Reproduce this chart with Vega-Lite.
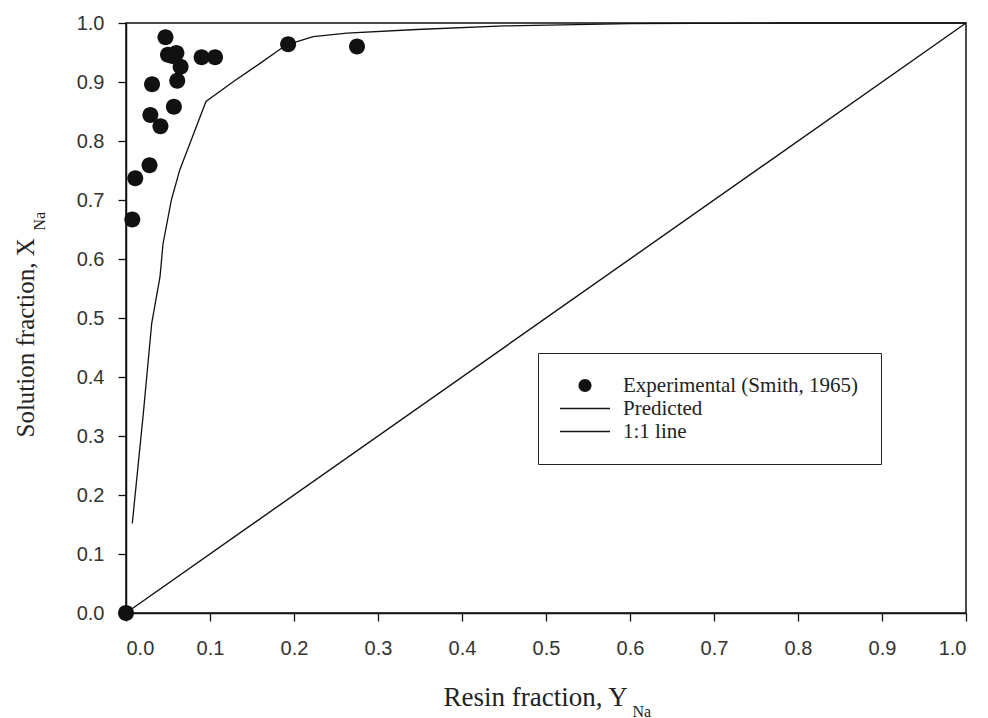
{
  "$schema": "https://vega.github.io/schema/vega-lite/v6.json",
  "width": 840,
  "height": 590,
  "autosize": {"type": "none"},
  "padding": {"left": 126, "top": 23, "right": 22, "bottom": 105},
  "background": "white",
  "config": {
    "view": {"stroke": "#111", "strokeWidth": 1.5},
    "axis": {"grid": false}
  },
  "layer": [
    {
      "data": {"values": [{"x": 0, "y": 0}, {"x": 1, "y": 1}]},
      "mark": {"type": "line", "color": "#111", "strokeWidth": 1.4},
      "encoding": {
        "x": {
          "field": "x", "type": "quantitative",
          "scale": {"domain": [0, 1], "nice": false, "zero": false},
          "axis": {
            "orient": "bottom",
            "title": "Resin fraction, Y",
            "titleFont": "Liberation Serif", "titleFontSize": 27, "titleFontWeight": "normal", "titleColor": "#222",
            "titleX": 317, "titleY": 92, "titleAlign": "left", "titleBaseline": "alphabetic",
            "values": [0, 0.1, 0.2, 0.3, 0.4, 0.5, 0.6, 0.7, 0.8, 0.9, 1.0],
            "format": ".1f",
            "labelFont": "Liberation Sans", "labelFontSize": 20, "labelColor": "#333", "labelPadding": 17,
            "tickSize": 8, "tickColor": "#111", "tickWidth": 1.3,
            "domainColor": "#111", "domainWidth": 1.5, "grid": false
          }
        },
        "y": {
          "field": "y", "type": "quantitative",
          "scale": {"domain": [0, 1], "nice": false, "zero": false},
          "axis": {
            "orient": "left",
            "title": "Solution fraction, X",
            "titleFont": "Liberation Serif", "titleFontSize": 25, "titleFontWeight": "normal", "titleColor": "#222",
            "titleAngle": -90, "titleX": -93, "titleY": 414, "titleAlign": "left", "titleBaseline": "alphabetic",
            "values": [0, 0.1, 0.2, 0.3, 0.4, 0.5, 0.6, 0.7, 0.8, 0.9, 1.0],
            "format": ".1f",
            "labelFont": "Liberation Sans", "labelFontSize": 20, "labelColor": "#333", "labelPadding": 14,
            "tickSize": 8, "tickColor": "#111", "tickWidth": 1.3,
            "domainColor": "#111", "domainWidth": 1.5, "grid": false
          }
        }
      }
    },
    {
      "data": {
        "values": [
          {"x": 0.0075, "y": 0.152},
          {"x": 0.0206, "y": 0.338},
          {"x": 0.0306, "y": 0.491},
          {"x": 0.0405, "y": 0.570},
          {"x": 0.044, "y": 0.625},
          {"x": 0.054, "y": 0.700},
          {"x": 0.064, "y": 0.751},
          {"x": 0.0952, "y": 0.867},
          {"x": 0.128, "y": 0.901},
          {"x": 0.160, "y": 0.932},
          {"x": 0.191, "y": 0.963},
          {"x": 0.223, "y": 0.977},
          {"x": 0.263, "y": 0.983},
          {"x": 0.346, "y": 0.989},
          {"x": 0.45, "y": 0.995},
          {"x": 0.6, "y": 0.999},
          {"x": 0.8, "y": 1.0},
          {"x": 1.0, "y": 1.0}
        ]
      },
      "mark": {"type": "line", "color": "#111", "strokeWidth": 1.3},
      "encoding": {
        "x": {
          "field": "x", "type": "quantitative",
          "scale": {"domain": [0, 1], "nice": false, "zero": false},
          "axis": {
            "orient": "bottom",
            "title": "Na", "titleFont": "Liberation Serif", "titleFontSize": 16, "titleFontWeight": "normal", "titleColor": "#222",
            "titleX": 506, "titleY": 103, "titleAlign": "left", "titleBaseline": "alphabetic",
            "labels": false, "ticks": false, "domain": false, "grid": false
          }
        },
        "y": {
          "field": "y", "type": "quantitative",
          "scale": {"domain": [0, 1], "nice": false, "zero": false},
          "axis": {
            "orient": "left",
            "title": "Na", "titleFont": "Liberation Serif", "titleFontSize": 16, "titleFontWeight": "normal", "titleColor": "#222",
            "titleAngle": -90, "titleX": -82, "titleY": 207, "titleAlign": "left", "titleBaseline": "alphabetic",
            "labels": false, "ticks": false, "domain": false, "grid": false
          }
        }
      }
    },
    {
      "data": {
        "values": [
          {"x": 0.0, "y": 0.0, "series": "Experimental (Smith, 1965)"},
          {"x": 0.0075, "y": 0.667, "series": "Experimental (Smith, 1965)"},
          {"x": 0.011, "y": 0.737, "series": "Experimental (Smith, 1965)"},
          {"x": 0.028, "y": 0.759, "series": "Experimental (Smith, 1965)"},
          {"x": 0.041, "y": 0.825, "series": "Experimental (Smith, 1965)"},
          {"x": 0.029, "y": 0.844, "series": "Experimental (Smith, 1965)"},
          {"x": 0.057, "y": 0.858, "series": "Experimental (Smith, 1965)"},
          {"x": 0.031, "y": 0.896, "series": "Experimental (Smith, 1965)"},
          {"x": 0.061, "y": 0.902, "series": "Experimental (Smith, 1965)"},
          {"x": 0.065, "y": 0.926, "series": "Experimental (Smith, 1965)"},
          {"x": 0.050, "y": 0.946, "series": "Experimental (Smith, 1965)"},
          {"x": 0.055, "y": 0.944, "series": "Experimental (Smith, 1965)"},
          {"x": 0.060, "y": 0.949, "series": "Experimental (Smith, 1965)"},
          {"x": 0.047, "y": 0.976, "series": "Experimental (Smith, 1965)"},
          {"x": 0.090, "y": 0.942, "series": "Experimental (Smith, 1965)"},
          {"x": 0.106, "y": 0.942, "series": "Experimental (Smith, 1965)"},
          {"x": 0.193, "y": 0.964, "series": "Experimental (Smith, 1965)"},
          {"x": 0.275, "y": 0.960, "series": "Experimental (Smith, 1965)"}
        ]
      },
      "mark": {"type": "point", "filled": true, "color": "#111", "opacity": 1, "size": 3786},
      "encoding": {
        "x": {"field": "x", "type": "quantitative", "scale": {"domain": [0, 1], "nice": false, "zero": false}, "axis": null},
        "y": {"field": "y", "type": "quantitative", "scale": {"domain": [0, 1], "nice": false, "zero": false}, "axis": null},
        "shape": {
          "field": "series", "type": "nominal",
          "scale": {
            "domain": ["Experimental (Smith, 1965)", "Predicted", "1:1 line"],
            "range": [
              "M-0.26,0A0.26,0.26,0,1,0,0.26,0A0.26,0.26,0,1,0,-0.26,0Z",
              "M-1,-0.026H1V0.026H-1Z",
              "M-1,-0.028H1V0.028H-1Z"
            ]
          },
          "legend": {
            "orient": "none", "legendX": 412, "legendY": 330,
            "title": null,
            "labelFont": "Liberation Serif", "labelFontSize": 21, "labelColor": "#222", "labelLimit": 400,
            "labelOffset": 13,
            "symbolSize": 2500, "symbolFillColor": "#111", "symbolStrokeWidth": 0,
            "padding": 22, "strokeColor": "#222", "fillColor": "white",
            "clipHeight": 21, "rowPadding": 1,
            "encode": {
              "symbols": {
                "update": {
                  "fill": {"value": "#111"},
                  "strokeWidth": {"value": 0},
                  "opacity": {"value": 1}
                }
              }
            }
          }
        }
      }
    }
  ],
  "resolve": {"axis": {"x": "independent", "y": "independent"}}
}
